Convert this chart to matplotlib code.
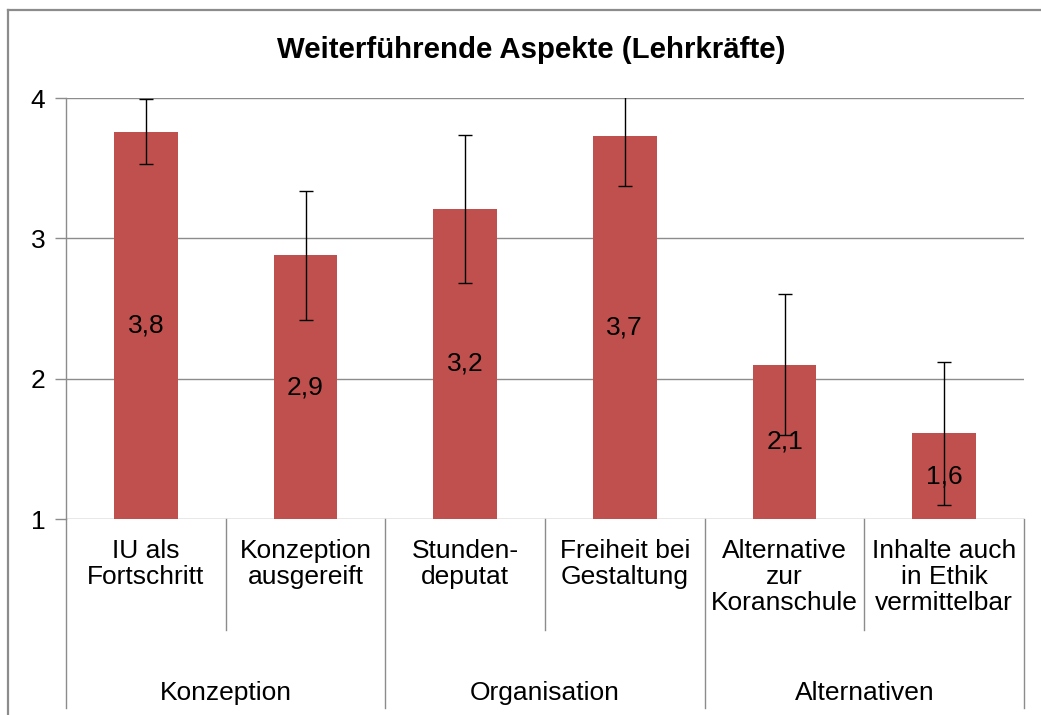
import matplotlib
matplotlib.use("Agg")
import matplotlib.pyplot as plt
from matplotlib.lines import Line2D

plt.rcParams["font.family"] = ["Liberation Sans", "DejaVu Sans"]

# data
categories = ["IU als\nFortschritt", "Konzeption\nausgereift", "Stunden-\ndeputat",
              "Freiheit bei\nGestaltung", "Alternative\nzur\nKoranschule",
              "Inhalte auch\nin Ethik\nvermittelbar"]
groups = ["Konzeption", "Organisation", "Alternativen"]
group_size = [2, 2, 2]
means = [3.76, 2.88, 3.21, 3.73, 2.10, 1.61]
errors = [0.23, 0.46, 0.53, 0.36, 0.50, 0.51]
value_labels = ["3,8", "2,9", "3,2", "3,7", "2,1", "1,6"]
title = "Weiterführende Aspekte (Lehrkräfte)"

BAR = "#C0504D"
GRID = "#8C8C8C"
INK = "#000000"
FS = 19

fig = plt.figure(figsize=(10.41, 7.15), dpi=100)
ax = fig.add_axes([0.0634, 0.2741, 0.9203, 0.5888])

x = list(range(len(means)))
ax.bar(x, [m - 1 for m in means], bottom=1, width=0.4, color=BAR, zorder=2)
ax.errorbar(x, means, yerr=errors, fmt="none", ecolor="#000000", elinewidth=1.0,
            capsize=4.7, capthick=1.0, zorder=3)
for xi, m, lab in zip(x, means, value_labels):
    ax.text(xi, (1 + m) / 2, lab, ha="center", va="center", fontsize=FS, color=INK, zorder=4)

ax.set_xlim(-0.5, len(means) - 0.5)
ax.set_ylim(1, 4)
ax.set_yticks([1, 2, 3, 4])
ax.set_yticklabels(["1", "2", "3", "4"], fontsize=FS)
ax.yaxis.grid(True, color=GRID, linewidth=1.0, zorder=0)
ax.set_axisbelow(True)
ax.tick_params(axis="y", length=8, width=1.0, color=GRID, pad=7)
ax.set_xticks([])
for s in ["top", "right", "bottom"]:
    ax.spines[s].set_visible(False)
ax.spines["left"].set_color(GRID)
ax.spines["left"].set_linewidth(1.0)

# multi-level category axis
tr = ax.get_xaxis_transform()
inner_bottom = -0.264
outer_bottom = -0.449
bounds = [-0.5]
for g in group_size:
    bounds.append(bounds[-1] + g)
for k in range(len(means) + 1):
    xb = k - 0.5
    y0 = outer_bottom if xb in bounds else inner_bottom
    ax.plot([xb, xb], [0, y0], transform=tr, color=GRID, linewidth=1.0, clip_on=False)
for xi, lab in zip(x, categories):
    ax.text(xi, -0.048, lab, transform=tr, ha="center", va="top", fontsize=FS,
            linespacing=1.1, color=INK)
for gi, g in enumerate(groups):
    cx = (bounds[gi] + bounds[gi + 1]) / 2
    ax.text(cx, -0.413, g, transform=tr, ha="center", va="center", fontsize=FS, color=INK)

fig.text(0.51, 0.930, title, ha="center", va="center", fontsize=21.2, fontweight="bold", color=INK)

# chart frame (top and left visible in the crop)
fig.add_artist(Line2D([8 / 1041, 8 / 1041], [0, 1 - 10 / 715], color="#8C8C8C", linewidth=1.6))
fig.add_artist(Line2D([8 / 1041, 1], [1 - 10 / 715, 1 - 10 / 715], color="#8C8C8C", linewidth=1.6))

fig.savefig("out.png", dpi=100)
